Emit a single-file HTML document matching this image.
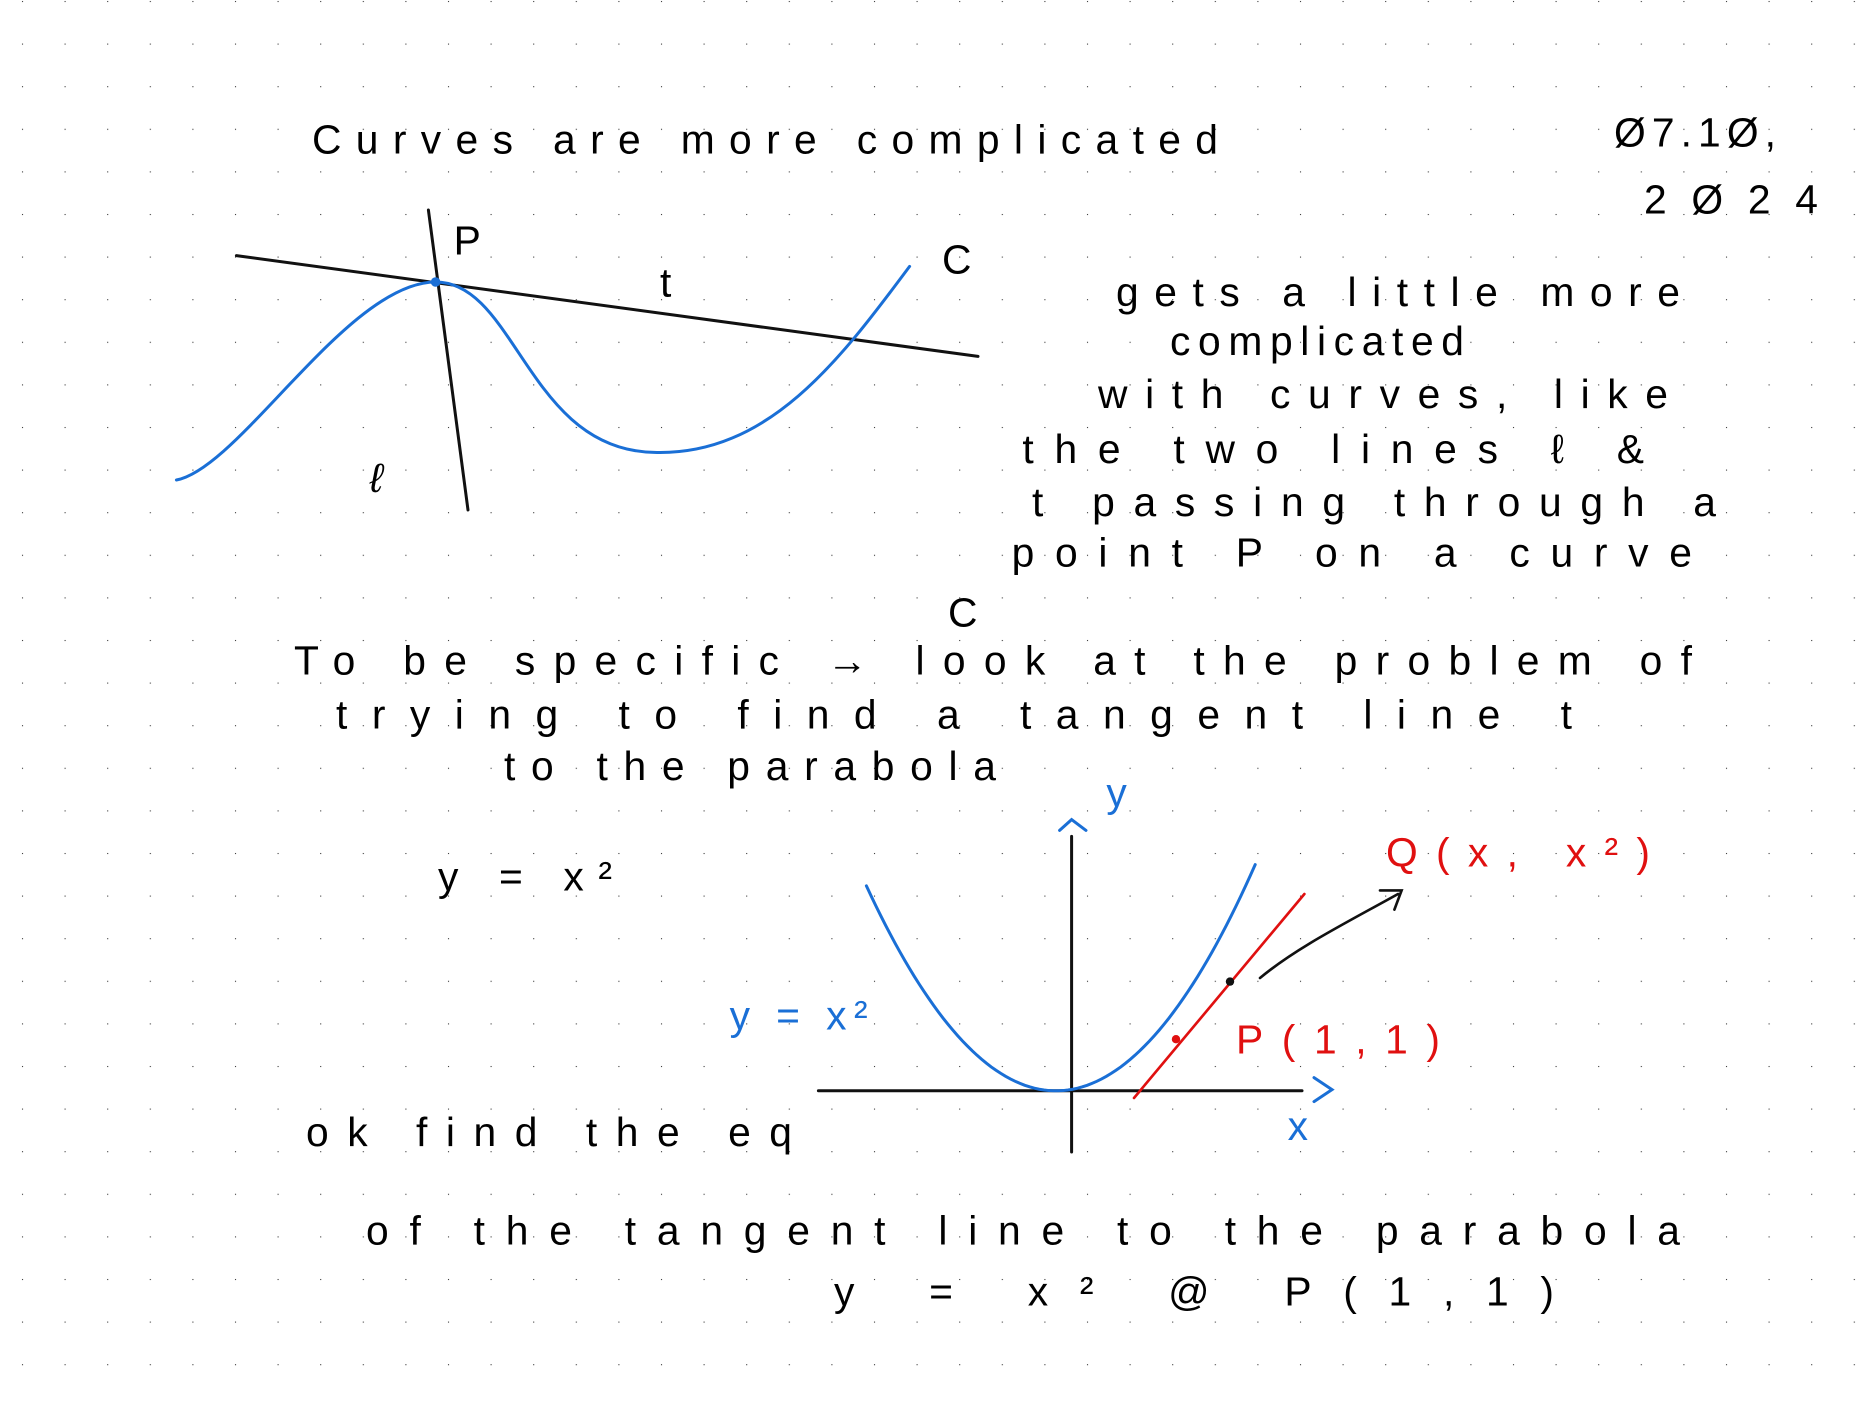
<!DOCTYPE html>
<html><head><meta charset="utf-8"><style>
html,body{margin:0;padding:0;background:#fff}
svg{display:block}
text{font-family:"Liberation Sans",sans-serif;font-size:34px}
</style></head><body>
<svg id="s" width="1872" height="1404" viewBox="0 0 1560 1170" xmlns="http://www.w3.org/2000/svg">
<defs>
<pattern id="dots" x="18.3" y="0.8" width="35.5" height="35.5" patternUnits="userSpaceOnUse">
<rect x="-0.9" y="-0.9" width="1.8" height="1.8" fill="#333"/>
</pattern>
</defs>
<rect x="0" y="0" width="1560" height="1170" fill="url(#dots)"/>

<text x="260" y="128" textLength="755">Curves are more complicated</text>
<text x="1345" y="122" textLength="135">Ø7.1Ø,</text>
<text x="1370" y="178" textLength="145">2Ø24</text>

<g fill="none" stroke-linecap="round">
<line x1="357" y1="175" x2="390" y2="425" stroke="#111" stroke-width="2.5"/>
<line x1="197" y1="213" x2="815" y2="297" stroke="#111" stroke-width="2.5"/>
<path d="M147,400 C200,390 290,235 363,235 C430,235 440,375 545,377 C640,380 700,300 758,222" stroke="#1a6fd6" stroke-width="2.5"/>
<circle cx="363" cy="235" r="4" fill="#1a6fd6" stroke="none"/>
</g>
<text x="378" y="212">P</text>
<text x="550" y="247">t</text>
<text x="785" y="228" font-size="28">C</text>
<text x="308" y="410" font-style="italic">ℓ</text>

<text x="930" y="255" textLength="470">gets a little more</text>
<text x="975" y="296" textLength="245">complicated</text>
<text x="915" y="340" textLength="475">with curves, like</text>
<text x="852" y="386" textLength="518">the two lines ℓ &amp;</text>
<text x="860" y="430" textLength="570">t passing through a</text>
<text x="843" y="472" textLength="567">point P on a curve</text>
<text x="790" y="522" font-size="44">C</text>

<text x="245" y="562" textLength="1165">To be specific → look at the problem of</text>
<text x="280" y="607" textLength="1030">trying to find a tangent line t</text>
<text x="420" y="650" textLength="410">to the parabola</text>
<text x="365" y="742" font-size="40" textLength="145">y = x²</text>

<g fill="none" stroke-linecap="round">
<line x1="893" y1="697" x2="893" y2="960" stroke="#111" stroke-width="2.5"/>
<polyline points="883,692 893,683 905,692" stroke="#1a6fd6" stroke-width="2.5"/>
<line x1="682" y1="909" x2="1085" y2="909" stroke="#111" stroke-width="2.5"/>
<polyline points="1095,898 1110,908 1095,918" stroke="#1a6fd6" stroke-width="2.5"/>
<path id="parab" stroke="#1a6fd6" stroke-width="2.5"/>
<line x1="945" y1="915" x2="1087" y2="745" stroke="#e01010" stroke-width="2.2"/>
<circle cx="980" cy="866" r="3.5" fill="#e01010" stroke="none"/>
<circle cx="1025" cy="818" r="3.5" fill="#111" stroke="none"/>
<path d="M1050,815 C1080,790 1120,770 1165,745 M1150,742 L1168,742 L1162,758" stroke="#111" stroke-width="2.2"/>
</g>
<text x="922" y="672" fill="#1a6fd6" font-size="30">y</text>
<text x="1073" y="950" fill="#1a6fd6" font-size="30">x</text>
<text x="608" y="858" fill="#1a6fd6" font-size="40" textLength="115">y = x²</text>
<text x="1155" y="722" fill="#e01010" textLength="220">Q(x, x²)</text>
<text x="1030" y="878" fill="#e01010" textLength="170">P(1,1)</text>

<text x="255" y="955" textLength="405">ok find the eq</text>
<text x="305" y="1037" textLength="1095">of the tangent line to the parabola</text>
<text x="695" y="1088" font-size="38" textLength="600">y = x² @ P(1,1)</text>
</svg>
<script>
const vx=880, vy=909, k=0.00684;
const xs=[];
for(let x=722;x<=1048;x+=4) xs.push(x);
const d=xs.map((x,i)=>(i?'L':'M')+x+','+(vy-k*(x-vx)*(x-vx)).toFixed(1)).join(' ');
document.getElementById('parab').setAttribute('d',d);
</script>
</body></html>
